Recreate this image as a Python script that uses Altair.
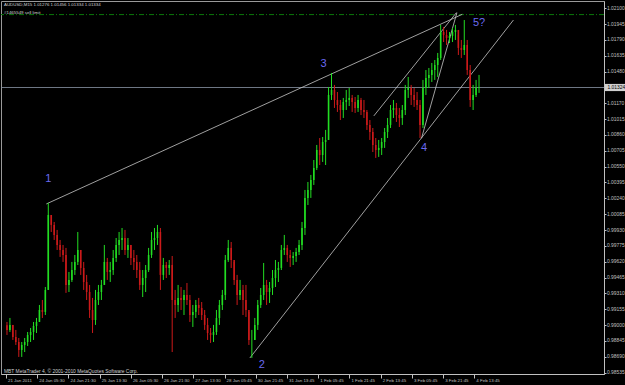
import altair as alt
import pandas as pd

# ---------------- data ----------------
HIGH = [0.99031, 0.99070, 0.99002, 0.98953, 0.98874, 0.98835, 0.98874, 0.98933, 0.98972, 0.99031,
        0.99070, 0.99197, 0.99246, 0.99373, 1.00195, 1.00077, 1.00009, 0.99931, 0.99833, 0.99784,
        0.99755, 0.99520, 0.99618, 0.99686, 0.99911, 0.99735, 0.99618, 0.99491, 0.99393, 0.99266,
        0.99344, 0.99393, 0.99442, 0.99784, 0.99657, 0.99618, 0.99735, 0.99852, 0.99911, 0.99950,
        0.99931, 0.99852, 0.99784, 0.99735, 0.99686, 0.99618, 0.99539, 0.99588, 0.99755, 0.99911,
        0.99950, 0.99980, 0.99950, 0.99657, 0.99618, 0.99637, 0.99676, 0.99344, 0.99393, 0.99373,
        0.99344, 0.99412, 0.99295, 0.99197, 0.99246, 0.99266, 0.99226, 0.99148, 0.99070, 0.98972,
        0.99002, 0.99148, 0.99246, 0.99344, 0.99686, 0.99833, 0.99813, 0.99618, 0.99491, 0.99442,
        0.99393, 0.99393, 0.99129, 0.98953, 0.99070, 0.99246, 0.99363, 0.99608, 0.99442, 0.99422,
        0.99539, 0.99637, 0.99618, 0.99784, 0.99882, 0.99784, 0.99735, 0.99715, 0.99755, 0.99833,
        1.00009, 1.00322, 1.00400, 1.00469, 1.00615, 1.00762, 1.00830, 1.00840, 1.00909, 1.01329,
        1.01466, 1.01349, 1.01280, 1.01202, 1.01222, 1.01300, 1.01319, 1.01251, 1.01231, 1.01251,
        1.01222, 1.01202, 1.01104, 1.01006, 1.00928, 1.00830, 1.00811, 1.00830, 1.00928, 1.01026,
        1.01153, 1.01202, 1.01173, 1.01124, 1.01153, 1.01349, 1.01427, 1.01349, 1.01319, 1.01280,
        1.01202, 1.01398, 1.01495, 1.01515, 1.01564, 1.01593, 1.01662, 1.01936, 1.01916, 1.01887,
        1.01867, 1.01906, 1.01936, 1.01838, 1.01789, 1.01984, 1.01789, 1.01544, 1.01349, 1.01398,
        1.01447]
LOW = [0.98904, 0.98933, 0.98855, 0.98806, 0.98689, 0.98689, 0.98737, 0.98796, 0.98835, 0.98855,
       0.98923, 0.99031, 0.99070, 0.99099, 0.99344, 0.99911, 0.99833, 0.99735, 0.99667, 0.99618,
       0.99315, 0.99324, 0.99422, 0.99491, 0.99588, 0.99491, 0.99344, 0.99246, 0.99070, 0.98923,
       0.99002, 0.99197, 0.99246, 0.99393, 0.99442, 0.99422, 0.99491, 0.99618, 0.99686, 0.99735,
       0.99686, 0.99657, 0.99588, 0.99539, 0.99461, 0.99344, 0.99275, 0.99324, 0.99520, 0.99657,
       0.99735, 0.99784, 0.99344, 0.99442, 0.99461, 0.99491, 0.98737, 0.99070, 0.99129, 0.99148,
       0.99099, 0.99197, 0.99031, 0.98982, 0.99070, 0.99099, 0.99050, 0.98953, 0.98855, 0.98826,
       0.98835, 0.98904, 0.99002, 0.99148, 0.99246, 0.99618, 0.99559, 0.99393, 0.99197, 0.99246,
       0.99099, 0.99080, 0.98806, 0.98679, 0.98855, 0.98953, 0.99168, 0.99246, 0.99197, 0.99217,
       0.99295, 0.99373, 0.99422, 0.99539, 0.99686, 0.99618, 0.99569, 0.99588, 0.99618, 0.99686,
       0.99735, 0.99882, 1.00175, 1.00244, 1.00371, 1.00517, 1.00566, 1.00596, 1.00566, 1.00811,
       1.01202, 1.01124, 1.01085, 1.01006, 1.01026, 1.01104, 1.01143, 1.01085, 1.01075, 1.01085,
       1.01055, 1.01026, 1.00909, 1.00811, 1.00693, 1.00635, 1.00645, 1.00664, 1.00733, 1.00830,
       1.00928, 1.01026, 1.00987, 1.00938, 1.00958, 1.01055, 1.01222, 1.01153, 1.01134, 1.01104,
       1.00830, 1.00928, 1.01251, 1.01319, 1.01378, 1.01398, 1.01427, 1.01593, 1.01769, 1.01740,
       1.01759, 1.01769, 1.01789, 1.01642, 1.01613, 1.01642, 1.01447, 1.01134, 1.01104, 1.01231,
       1.01271]
CLOSE = [0.98953, 0.99002, 0.98884, 0.98835, 0.98757, 0.98806, 0.98835, 0.98904, 0.98933, 0.98992,
         0.99031, 0.99148, 0.99129, 0.99344, 1.00077, 0.99980, 0.99882, 0.99784, 0.99735, 0.99686,
         0.99393, 0.99442, 0.99539, 0.99618, 0.99735, 0.99559, 0.99422, 0.99324, 0.99148, 0.99050,
         0.99246, 0.99324, 0.99393, 0.99618, 0.99520, 0.99539, 0.99657, 0.99784, 0.99833, 0.99852,
         0.99735, 0.99784, 0.99657, 0.99618, 0.99539, 0.99393, 0.99461, 0.99539, 0.99686, 0.99833,
         0.99852, 0.99911, 0.99491, 0.99588, 0.99559, 0.99588, 0.99246, 0.99197, 0.99266, 0.99246,
         0.99295, 0.99246, 0.99099, 0.99129, 0.99197, 0.99168, 0.99099, 0.99002, 0.98923, 0.98904,
         0.98933, 0.99070, 0.99197, 0.99295, 0.99637, 0.99755, 0.99637, 0.99442, 0.99295, 0.99344,
         0.99246, 0.99148, 0.98855, 0.98855, 0.99002, 0.99197, 0.99295, 0.99393, 0.99324, 0.99363,
         0.99461, 0.99539, 0.99559, 0.99735, 0.99755, 0.99686, 0.99657, 0.99676, 0.99715, 0.99784,
         0.99950, 1.00244, 1.00322, 1.00420, 1.00537, 1.00713, 1.00664, 1.00791, 1.00811, 1.01251,
         1.01300, 1.01202, 1.01153, 1.01104, 1.01182, 1.01202, 1.01222, 1.01182, 1.01124, 1.01202,
         1.01104, 1.01085, 1.00958, 1.00889, 1.00762, 1.00713, 1.00733, 1.00791, 1.00889, 1.00958,
         1.01104, 1.01124, 1.01055, 1.01026, 1.01104, 1.01300, 1.01319, 1.01251, 1.01202, 1.01153,
         1.00958, 1.01319, 1.01417, 1.01447, 1.01495, 1.01544, 1.01613, 1.01867, 1.01838, 1.01808,
         1.01828, 1.01867, 1.01887, 1.01711, 1.01691, 1.01740, 1.01495, 1.01202, 1.01251, 1.01319,
         1.01324]
FIRST_OPEN = 0.99000
BAR_STEP = 6  # M15 bars represented by each drawn bar

Y_TICKS = [0.98535, 0.98690, 0.98845, 0.99000, 0.99155, 0.99310, 0.99465, 0.99620, 0.99775,
           0.99930, 1.00085, 1.00240, 1.00395, 1.00550, 1.00705, 1.00860, 1.01015, 1.01170,
           1.01480, 1.01635, 1.01790, 1.01945, 1.02100]
X_LABELS = ["21 Jan 2011", "24 Jan 05:30", "24 Jan 21:30", "25 Jan 13:30", "26 Jan 05:30",
            "26 Jan 21:30", "27 Jan 13:30", "28 Jan 05:45", "30 Jan 21:45", "31 Jan 13:45",
            "1 Feb 05:45", "1 Feb 21:45", "2 Feb 13:45", "3 Feb 05:45", "3 Feb 21:45",
            "4 Feb 13:45"]
X_LABEL_STEP = 63.5   # bars between time labels
X_START = -2

BID = 1.01324
SELL_LIMIT = 1.02037

# trend lines (start time, start price, end time, end price)
LINE_T1 = [80, 494, 843, 746]
LINE_P1 = [1.00185, 0.98679, 1.00827, 1.01046]
LINE_T2 = [926, 1030, 915, 914]
LINE_P2 = [1.02040, 1.01984, 1.02056, 1.02056]

WAVE_TEXT = ["1", "2", "3", "4", "5?"]
WAVE_T = [84, 518, 644, 848, 960]
WAVE_P = [1.00429, 0.98610, 1.01554, 1.00733, 1.01955]

# ---------------- chart ----------------
opens = [FIRST_OPEN] + CLOSE[:-1]
bars = pd.DataFrame({
    "t": [i * BAR_STEP for i in range(len(CLOSE))],
    "open": opens, "high": HIGH, "low": LOW, "close": CLOSE,
})
bars["dir"] = ["up" if c >= o else "down" for o, c in zip(opens, CLOSE)]

FONT = "Liberation Sans"
AX_COL = "#c0c0c0"
x_tick_vals = [X_START + k * X_LABEL_STEP for k in range(len(X_LABELS))]
label_arr = "[" + ",".join("'" + s + "'" for s in X_LABELS) + "]"

XS = alt.Scale(domain=[-2, 1204], nice=False, zero=False)
YS = alt.Scale(domain=[0.98522, 1.02170], nice=False, zero=False)
XAX = alt.Axis(values=x_tick_vals, labelExpr=f"{label_arr}[round((datum.value - ({X_START})) / {X_LABEL_STEP})]",
               grid=False, domainColor=AX_COL, tickColor=AX_COL, tickSize=4, labelColor=AX_COL,
               labelFont=FONT, labelFontSize=4.4, labelAlign="left", labelPadding=0, labelOffset=1.5,
               labelBaseline="top", title=None, orient="bottom", labelOverlap=False, labelFlush=False)
YAX = alt.Axis(values=Y_TICKS, format=".5f", grid=False, domainColor=AX_COL, tickColor=AX_COL,
               tickSize=2, labelColor=AX_COL, labelFont=FONT, labelFontSize=4.9, labelPadding=0.5,
               title=None, orient="right", labelOverlap=False, labelFlush=False)


def X(field):
    return alt.X(field, type="quantitative", scale=XS, axis=XAX)


def Y(field):
    return alt.Y(field, type="quantitative", scale=YS, axis=YAX)


color = alt.Color("dir:N", scale=alt.Scale(domain=["up", "down"], range=["#22dd22", "#cc1a1a"]), legend=None)

wicks = alt.Chart(bars).mark_rule(strokeWidth=1).encode(x=X("t"), y=Y("low"), y2="high", color=color)
bodies = alt.Chart(bars).mark_bar(size=1.6).encode(x=X("t"), y=Y("open"), y2="close", color=color)

bid_line = alt.Chart(pd.DataFrame({"p": [BID]})).mark_rule(color="#8a96a6", strokeWidth=0.8).encode(y=Y("p"))
sell_line = alt.Chart(pd.DataFrame({"p": [SELL_LIMIT]})).mark_rule(
    color="#0a7a0a", strokeWidth=1, strokeDash=[5, 2, 1, 2]).encode(y=Y("p"))

trend = alt.Chart(pd.DataFrame({"t1": LINE_T1, "p1": LINE_P1, "t2": LINE_T2, "p2": LINE_P2})).mark_rule(
    color="#c8c8c8", strokeWidth=0.8).encode(x=X("t1"), y=Y("p1"), x2="t2", y2="p2")

waves = alt.Chart(pd.DataFrame({"t": WAVE_T, "p": WAVE_P, "s": WAVE_TEXT})).mark_text(
    font=FONT, fontSize=11, color="#6a6af0", align="center", baseline="middle").encode(
    x=X("t"), y=Y("p"), text="s:N")

bid_box = alt.Chart(pd.DataFrame({"p1": [BID - 0.00035], "p2": [BID + 0.00035]})).mark_rect(
    color="#d0d0d0", clip=False).encode(x=alt.value(604), x2=alt.value(624), y=Y("p1"), y2="p2")
bid_text = alt.Chart(pd.DataFrame({"p": [BID], "s": ["1.01324"]})).mark_text(
    font=FONT, fontSize=4.9, color="#000000", align="left", baseline="middle", dx=2.5, clip=False).encode(
    x=alt.value(604), y=Y("p"), text="s:N")

header = alt.Chart(pd.DataFrame({"s": ["AUDUSD,M15  1.01276 1.01456 1.01334 1.01334"]})).mark_text(
    font=FONT, fontSize=4.4, color="#d0d0d0", align="left", baseline="middle").encode(
    x=alt.value(3), y=alt.value(4), text="s:N")
header2 = alt.Chart(pd.DataFrame({"s": ["#1465549 sell limit"]})).mark_text(
    font=FONT, fontSize=4.4, color="#d0d0d0", align="left", baseline="middle").encode(
    x=alt.value(3), y=alt.value(12), text="s:N")
footer = alt.Chart(pd.DataFrame({"s": ["MBT MetaTrader 4, \u00a9 2001-2010 MetaQuotes Software Corp."]})).mark_text(
    font=FONT, fontSize=4.9, color="#d0d0d0", align="left", baseline="middle").encode(
    x=alt.value(3), y=alt.value(371), text="s:N")

chart = alt.layer(
    sell_line, bid_line, trend, wicks, bodies, waves, bid_box, bid_text, header, header2, footer
).properties(
    width=603, height=373,
    padding={"left": 1, "top": 1, "right": 21, "bottom": 11},
    autosize=alt.AutoSizeParams(type="none"),
    background="#000000",
).configure_view(stroke="#9a9a9a", strokeWidth=1, fill="#000000")

chart.save("out.html", embed_options={"renderer": "svg", "actions": False})
